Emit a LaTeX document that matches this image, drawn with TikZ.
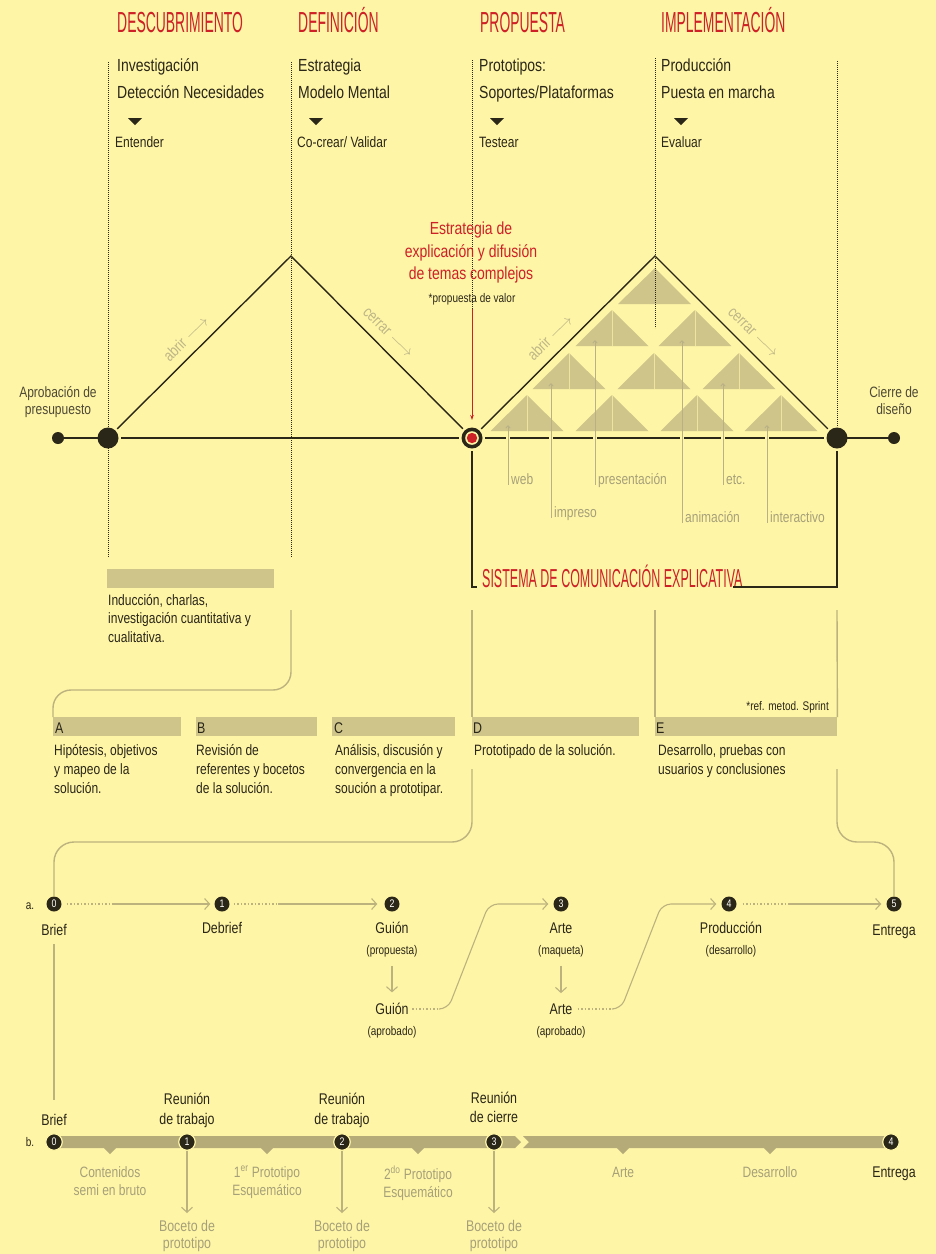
\documentclass[tikz,border=0pt]{standalone}
\usepackage{fontspec}
\setmainfont{Liberation Sans}[FakeStretch=0.8]
\newfontfamily\titlefont{Liberation Sans}[FakeStretch=0.48]
\usetikzlibrary{arrows.meta}
\definecolor{bg}{HTML}{FFF5A6}
\definecolor{ink}{HTML}{2A2618}
\definecolor{redt}{HTML}{CD2027}
\definecolor{khaki}{HTML}{CFC58B}
\definecolor{khakid}{HTML}{B4AB79}
\definecolor{khakil}{HTML}{BCB27E}
\definecolor{grayt}{HTML}{A6A07A}
\definecolor{lightg}{HTML}{BDB687}
\definecolor{ptrc}{HTML}{B8B185}
\definecolor{midt}{HTML}{4E4936}
\begin{document}
\begin{tikzpicture}[x=1pt,y=-1pt,
  ttl/.style={font=\titlefont\fontsize{29}{29}\selectfont, text=redt, inner sep=0pt, anchor=base west},
  hd/.style={font=\fontsize{17.5}{22}\selectfont, text=ink, inner sep=0pt, anchor=base west},
  sm/.style={font=\fontsize{15}{19}\selectfont, text=ink, inner sep=0pt},
  tn/.style={font=\fontsize{12.5}{15}\selectfont, text=ink, inner sep=0pt},
  gl/.style={font=\fontsize{15}{18.5}\selectfont, text=grayt, inner sep=0pt},
  dotl/.style={draw=ink, line width=0.7pt, dash pattern=on 0.7pt off 1.3pt},
  mainln/.style={draw=ink, line width=1.4pt},
  kl/.style={draw=khakil, line width=1.4pt},
  kdot/.style={draw=khakil, line width=1.1pt, dash pattern=on 1.5pt off 2pt},
  karr/.style={draw=khakil, line width=1.1pt, -{Straight Barb[length=5pt,width=11pt]}},
  numa/.style={circle, fill=ink, text=white, inner sep=0pt, minimum size=15pt, font=\fontsize{11}{11}\selectfont},
  numb/.style={numa, draw=bg, line width=1.2pt, minimum size=16.5pt},
  barn/.style={fill=khaki, inner sep=0pt, minimum height=19pt, anchor=north west},
  ptr/.style={draw=ptrc, line width=0.9pt, {Straight Barb[length=2.5pt,width=4.5pt]}-},
  rotl/.style={font=\fontsize{16}{16}\selectfont, text=lightg, inner sep=0pt},
  bigdot/.style={circle, fill=ink, minimum size=21pt, inner sep=0pt, outer sep=2.5pt},
  smdot/.style={circle, fill=ink, minimum size=12pt, inner sep=0pt}
]
\fill[bg] (0,0) rectangle (936,1254);
\useasboundingbox (0,0) rectangle (936,1254);

% ---------- titles ----------
\node[ttl] (t1) at (117,32) {DESCUBRIMIENTO};
\node[ttl] (t2) at (298,32) {DEFINICIÓN};
\node[ttl] (t3) at (480,32) {PROPUESTA};
\node[ttl] (t4) at (661,32) {IMPLEMENTACIÓN};

\node[hd] (h1a) at (117,71) {Investigación};
\node[hd] (h1b) at (117,98) {Detección Necesidades};
\node[hd] (h2a) at (298,71) {Estrategia};
\node[hd] (h2b) at (298,98) {Modelo Mental};
\node[hd] (h3a) at (479,71) {Prototipos:};
\node[hd] (h3b) at (479,98) {Soportes/Plataformas};
\node[hd] (h4a) at (661,71) {Producción};
\node[hd] (h4b) at (661,98) {Puesta en marcha};

\foreach \tx in {135,316,497,681}{
  \fill[ink] (\tx-7,118) -- (\tx+7,118) -- (\tx,125) -- cycle;
}
\node[sm, anchor=base west] (s1) at (115,147) {Entender};
\node[sm, anchor=base west] (s2) at (297,147) {Co-crear/ Validar};
\node[sm, anchor=base west] (s3) at (479,147) {Testear};
\node[sm, anchor=base west] (s4) at (661,147) {Evaluar};

% ---------- pyramid of small triangles ----------
\fill[khaki] (618,304) -- (655,268) -- (691,304) -- cycle;
\foreach \cx/\ap in {612/310,695/310,569/353,654/353,739/353,527/395,612/395,697/395,781/395}{
  \fill[khaki] (\cx-36.5,\ap+36) -- (\cx,\ap) -- (\cx+36.5,\ap+36) -- cycle;
  \draw[bg!65!khaki, line width=1pt] (\cx,\ap) -- (\cx,\ap+36);
}

% ---------- dotted guides ----------
\draw[dotl] (108,62) -- (108,557);
\draw[dotl] (291,62) -- (291,557);
\draw[dotl] (472,60) -- (472,310);
\draw[dotl] (655,58) -- (655,328);
\draw[dotl] (837,61) -- (837,427);

% ---------- main line ----------
\node[smdot] (sl) at (58,438) {};
\node[bigdot] (bl) at (108,438) {};
\node[bigdot] (rn) at (472,438) {};
\node[bigdot] (br) at (837,438) {};
\node[smdot] (sr) at (894,438) {};
\coordinate (ap1) at (291,256);
\coordinate (ap2) at (655,256);

\draw[mainln] (sl) -- (bl.center);
\draw[mainln] (bl) -- (rn);
\draw[mainln] (rn) -- (br);
\draw[mainln] (br.center) -- (sr);
\draw[mainln, line join=miter] (bl) -- (ap1) -- (rn);
\draw[mainln, line join=miter] (rn) -- (ap2) -- (br);

% pointers to the small triangles
\foreach \px/\pt/\pb in {508/425/485, 551/383/518, 595/340/485, 682/340/523, 723/383/485, 767/425/523}{
  \draw[bg, line width=4.5pt] (\px,433) -- (\px,443);
  \draw[ptr] (\px,\pt) -- (\px,\pb);
}
\node[gl, anchor=base west] (pw) at (511,484) {web};
\node[gl, anchor=base west] (pi) at (554,517) {impreso};
\node[gl, anchor=base west] (pp) at (598,484) {presentación};
\node[gl, anchor=base west] (pa) at (685,522) {animación};
\node[gl, anchor=base west] (pe) at (726,484) {etc.};
\node[gl, anchor=base west] (pt) at (770,522) {interactivo};

% node dressing
\fill[bg] (rn.center) circle (6.8);
\fill[redt] (rn.center) circle (5.2);

% abrir / cerrar
\node[rotl, rotate=45] (ab1) at (186,338) {abrir $\longrightarrow$};
\node[rotl, rotate=-45] (ce1) at (388,333) {cerrar $\longrightarrow$};
\node[rotl, rotate=45] (ab2) at (550,337) {abrir $\longrightarrow$};
\node[rotl, rotate=-45] (ce2) at (753,333) {cerrar $\longrightarrow$};

% red label
\node[font=\fontsize{17.5}{22.5}\selectfont, text=redt, inner sep=0pt, align=center, anchor=north] (est) at (471,222) {Estrategia de\\explicación y difusión\\de temas complejos};
\node[tn, anchor=base] (pv) at (472,302) {*propuesta de valor};
\draw[redt, line width=1pt, -{Stealth[length=5pt,width=3.5pt]}, shorten <=4pt, shorten >=5pt] (pv.south) -- (rn.north);

% side labels
\node[sm, text=midt, align=center, anchor=north, font=\fontsize{15}{17.5}\selectfont] (apl) at (58,386) {Aprobación de\\presupuesto};
\node[sm, text=midt, align=center, anchor=north, font=\fontsize{15}{17.5}\selectfont] (cdl) at (894,386) {Cierre de\\diseño};

% system frame
\coordinate (sf1) at (472,587);
\coordinate (sf2) at (477,587);
\coordinate (sf3) at (837,587);
\coordinate (sf4) at (733,587);
\draw[mainln] (rn.south) -- (sf1) -- (sf2);
\node[ttl, font=\titlefont\fontsize{26}{26}\selectfont] (sis) at (482,587) {SISTEMA DE COMUNICACIÓN EXPLICATIVA};
\draw[mainln] (br.south) -- (sf3) -- (sf4);

% ---------- induction ----------
\node[barn, minimum width=167pt] (bind) at (107,569) {};
\node[sm, align=left, anchor=north west, font=\fontsize{15}{18.5}\selectfont] (ind) at (108,594) {Inducción, charlas,\\investigación cuantitativa y\\cualitativa.};

% ---------- bars A-E ----------
\node[barn, minimum width=128pt] (barA) at (53,717) {};
\node[barn, minimum width=121pt] (barB) at (196,717) {};
\node[barn, minimum width=123pt] (barC) at (332,717) {};
\node[barn, minimum width=167pt] (barD) at (472,717) {};
\node[barn, minimum width=182pt] (barE) at (655,717) {};
\node[sm, anchor=base west, font=\fontsize{15.5}{19}\selectfont] (lA) at (55,733) {A};
\node[sm, anchor=base west, font=\fontsize{15.5}{19}\selectfont] (lB) at (197,733) {B};
\node[sm, anchor=base west, font=\fontsize{15.5}{19}\selectfont] (lC) at (334,733) {C};
\node[sm, anchor=base west, font=\fontsize{15.5}{19}\selectfont] (lD) at (473,733) {D};
\node[sm, anchor=base west, font=\fontsize{15.5}{19}\selectfont] (lE) at (656,733) {E};

\node[sm, align=left, anchor=north west] (xA) at (54,744) {Hipótesis, objetivos\\y mapeo de la\\solución.};
\node[sm, align=left, anchor=north west] (xB) at (196,744) {Revisión de\\referentes y bocetos\\de la solución.};
\node[sm, align=left, anchor=north west] (xC) at (335,744) {Análisis, discusión y\\convergencia en la\\soución a prototipar.};
\node[sm, align=left, anchor=north west] (xD) at (474,744) {Prototipado de la solución.};
\node[sm, align=left, anchor=north west] (xE) at (658,744) {Desarrollo, pruebas con\\usuarios y conclusiones};
\node[tn, anchor=base east] (spr) at (829,710) {*ref. metod. Sprint};

% khaki connectors
\coordinate (k1) at (291,610);
\draw[kl, rounded corners=18pt] (k1) -- (291,690) -- (53,690) -- (barA.north west);
\coordinate (k2) at (472,610);
\draw[kl] (k2) -- (barD.north west);
\coordinate (k3) at (655,610);
\draw[kl] (k3) -- (barE.north west);
\coordinate (k4) at (837,610);
\draw[kl] (k4) -- (barE.north east);

% ---------- timeline a ----------
\node[tn, anchor=base] (la) at (30,909) {a.};
\node[numa] (a0) at (54,904) {0};
\node[numa] (a1) at (222,904) {1};
\node[numa] (a2) at (392,904) {2};
\node[numa] (a3) at (561,904) {3};
\node[numa] (a4) at (729,904) {4};
\node[numa] (a5) at (894,904) {5};

\coordinate (k5) at (472,769);
\draw[kl, rounded corners=20pt] (k5) -- (472,842) -- (54,842) -- (a0.north);
\coordinate (k6) at (837,769);
\draw[kl, rounded corners=20pt] (k6) -- (837,842) -- (894,842) -- (a5.north);

\node[sm, anchor=base, font=\fontsize{15.5}{19}\selectfont] (bra) at (54,935) {Brief};
\node[sm, anchor=base, font=\fontsize{15.5}{19}\selectfont] (dbr) at (222,933) {Debrief};
\node[sm, anchor=base, font=\fontsize{15.5}{19}\selectfont] (gu1) at (392,933) {Guión};
\node[sm, anchor=base, font=\fontsize{15.5}{19}\selectfont] (ar1) at (561,933) {Arte};
\node[sm, anchor=base, font=\fontsize{15.5}{19}\selectfont] (pro) at (731,933) {Producción};
\node[sm, anchor=base, font=\fontsize{15.5}{19}\selectfont] (ent) at (894,935) {Entrega};
\node[tn, anchor=base] (gp) at (392,954) {(propuesta)};
\node[tn, anchor=base] (am) at (561,954) {(maqueta)};
\node[tn, anchor=base] (pd) at (731,954) {(desarrollo)};
\node[sm, anchor=base, font=\fontsize{15.5}{19}\selectfont] (gu2) at (392,1014) {Guión};
\node[tn, anchor=base] (ga) at (392,1035) {(aprobado)};
\node[sm, anchor=base, font=\fontsize{15.5}{19}\selectfont] (ar2) at (561,1014) {Arte};
\node[tn, anchor=base] (aa) at (561,1035) {(aprobado)};

\draw[kdot, shorten <=5pt] (a0.east) -- ++(50,0) coordinate (m01);
\draw[karr, shorten >=4pt] (m01) -- (a1.west);
\draw[kdot, shorten <=4pt] (a1.east) -- ++(48.5,0) coordinate (m12);
\draw[karr, shorten >=7pt] (m12) -- (a2.west);
\draw[kdot, shorten <=6pt] (a4.east) -- ++(51.5,0) coordinate (m45);
\draw[karr, shorten >=5pt] (m45) -- (a5.west);

\draw[karr, shorten <=9pt, shorten >=10pt] (gp.south) -- (gu2.north);
\draw[karr, shorten <=9pt, shorten >=10pt] (am.south) -- (ar2.north);

\draw[kdot, shorten <=3.5pt] (gu2.east |- 0,1009) -- ++(31,0) coordinate (m23);
\draw[karr, rounded corners=9pt, shorten >=5pt] (m23) -- (448,1009) -- (489,904) -- (a3.west);
\draw[kdot, shorten <=5pt] (ar2.east |- 0,1009) -- ++(40,0) coordinate (m34);
\draw[karr, rounded corners=9pt, shorten >=5pt] (m34) -- (621,1009) -- (662,904) -- (a4.west);

% ---------- timeline b ----------
\node[sm, anchor=base, font=\fontsize{15.5}{19}\selectfont] (brb) at (54,1125) {Brief};
\draw[kl, shorten <=9pt, shorten >=14pt] (bra.south) -- (brb.north);

\node[tn, anchor=base] (lb) at (30,1146) {b.};
\fill[khakid] (54,1136) -- (515,1136) -- (521,1142) -- (515,1148) -- (54,1148) -- cycle;
\fill[khakid] (523,1136) -- (891,1136) -- (891,1148) -- (523,1148) -- (529,1142) -- cycle;
\foreach \nx in {110,267,418,623,770}{
  \fill[khakid] (\nx-7,1147) -- (\nx+7,1147) -- (\nx,1154) -- cycle;
}
\node[numb] (b0) at (54,1142) {0};
\node[numb] (b1) at (187,1142) {1};
\node[numb] (b2) at (342,1142) {2};
\node[numb] (b3) at (494,1142) {3};
\node[numb] (b4) at (891,1142) {4};

\node[sm, align=center, anchor=north, font=\fontsize{15.5}{20}\selectfont] (r1) at (187,1093) {Reunión\\de trabajo};
\node[sm, align=center, anchor=north, font=\fontsize{15.5}{20}\selectfont] (r2) at (342,1093) {Reunión\\de trabajo};
\node[sm, align=center, anchor=north, font=\fontsize{15.5}{19}\selectfont] (r3) at (494,1092) {Reunión\\de cierre};

\node[gl, align=center, anchor=north] (c1) at (110,1166) {Contenidos\\semi en bruto};
\node[gl, align=center, anchor=north] (c2) at (267,1166) {1\textsuperscript{er} Prototipo\\Esquemático};
\node[gl, align=center, anchor=north] (c3) at (418,1166) {2\textsuperscript{do} Prototipo\\Esquemático};
\node[gl, anchor=base] (c4) at (623,1177) {Arte};
\node[gl, anchor=base] (c5) at (770,1177) {Desarrollo};
\node[sm, anchor=base, font=\fontsize{15.5}{19}\selectfont] (c6) at (894,1177) {Entrega};

\node[gl, align=center, anchor=north, font=\fontsize{15.5}{17}\selectfont] (bo1) at (187,1220) {Boceto de\\prototipo};
\node[gl, align=center, anchor=north, font=\fontsize{15.5}{17}\selectfont] (bo2) at (342,1220) {Boceto de\\prototipo};
\node[gl, align=center, anchor=north, font=\fontsize{15.5}{17}\selectfont] (bo3) at (494,1220) {Boceto de\\prototipo};
\draw[karr, shorten >=7pt] (b1.south) -- (bo1.north);
\draw[karr, shorten >=7pt] (b2.south) -- (bo2.north);
\draw[karr, shorten >=7pt] (b3.south) -- (bo3.north);
\end{tikzpicture}
\end{document}
